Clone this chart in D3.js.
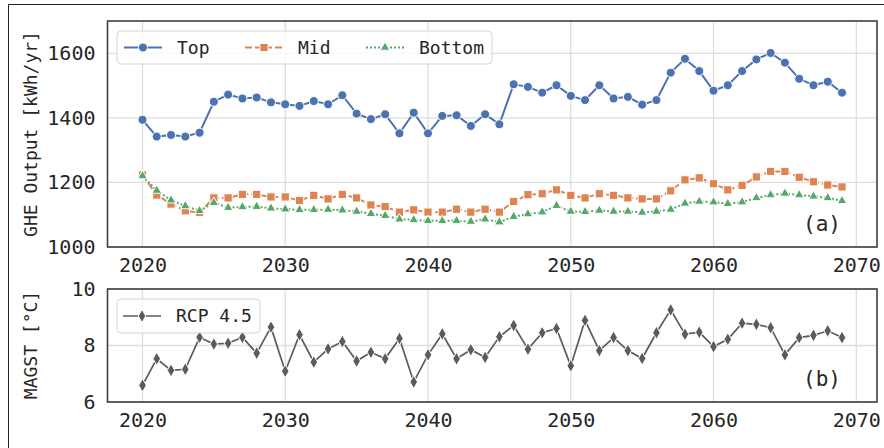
<!DOCTYPE html>
<html>
<head>
<meta charset="utf-8">
<script src="https://cdn.jsdelivr.net/npm/d3@7"></script>
<style>
  html, body { margin: 0; padding: 0; background: #fff; }
  svg { display: block; }
  text { font-family: "DejaVu Sans Mono", monospace; fill: #262626; }
</style>
</head>
<body>
<svg id="chart" width="884" height="448"></svg>
<script>
// Simulation years
const years = d3.range(2020, 2070);

// GHE annual output per sensor depth [kWh/yr]
const topOutput = [1394, 1342, 1347, 1342, 1354, 1450, 1472, 1460, 1463, 1448,
  1442, 1437, 1452, 1442, 1470, 1413, 1396, 1411, 1352, 1416,
  1352, 1406, 1408, 1375, 1411, 1380, 1504, 1496, 1478, 1501,
  1468, 1455, 1501, 1460, 1465, 1441, 1455, 1540, 1583, 1545,
  1484, 1501, 1545, 1581, 1601, 1571, 1521, 1501, 1512, 1478];
const midOutput = [1223, 1161, 1133, 1112, 1107, 1152, 1152, 1163, 1163, 1155,
  1155, 1144, 1160, 1149, 1163, 1152, 1130, 1125, 1108, 1115,
  1108, 1108, 1117, 1108, 1117, 1108, 1141, 1162, 1165, 1177,
  1160, 1152, 1165, 1160, 1152, 1149, 1149, 1174, 1208, 1214,
  1196, 1177, 1191, 1217, 1234, 1234, 1216, 1202, 1192, 1186];
const bottomOutput = [1220, 1175, 1145, 1127, 1112, 1137, 1122, 1124, 1125, 1120,
  1117, 1115, 1115, 1116, 1114, 1110, 1103, 1097, 1086, 1084,
  1081, 1081, 1081, 1079, 1086, 1077, 1094, 1102, 1108, 1128,
  1110, 1109, 1113, 1110, 1110, 1107, 1110, 1116, 1135, 1141,
  1139, 1134, 1139, 1152, 1161, 1166, 1161, 1157, 1152, 1143];

// Mean annual ground surface temperature, RCP 4.5 [°C]
const magst = [6.59, 7.53, 7.12, 7.16, 8.29, 8.05, 8.08, 8.29, 7.73, 8.65,
  7.09, 8.38, 7.41, 7.88, 8.14, 7.45, 7.76, 7.53, 8.25, 6.71,
  7.67, 8.41, 7.53, 7.85, 7.58, 8.31, 8.71, 7.87, 8.45, 8.60,
  7.28, 8.89, 7.82, 8.28, 7.82, 7.54, 8.45, 9.26, 8.40, 8.47,
  7.96, 8.22, 8.79, 8.75, 8.63, 7.67, 8.28, 8.36, 8.52, 8.28];

const xTicks = [2020, 2030, 2040, 2050, 2060, 2070];
const gheTicks = [1000, 1200, 1400, 1600];
const magstTicks = [6, 8, 10];

const svg = d3.select("#chart");

// figure border
svg.append("path").attr("d", "M8.5,448 V4.5 H884")
  .attr("fill", "none").attr("stroke", "#222").attr("stroke-width", 1);

const x = d3.scaleLinear().domain([2017.55, 2071.45]).range([107.5, 877]);
const yTop = d3.scaleLinear().domain([1000, 1700]).range([247, 21]);
const yBot = d3.scaleLinear().domain([6, 10]).range([402, 289]);

const gridColor = "#dedede";
const frameColor = "#3f3f3f";

function panel(y, yTicks, yLabel, yLabelY, tag) {
  const g = svg.append("g");
  const [y0, y1] = y.range();
  // grid
  g.append("g").selectAll("line").data(xTicks).join("line")
    .attr("x1", d => x(d)).attr("x2", d => x(d))
    .attr("y1", y1).attr("y2", y0)
    .attr("stroke", gridColor).attr("stroke-width", 1.3);
  g.append("g").selectAll("line").data(yTicks).join("line")
    .attr("x1", x.range()[0]).attr("x2", x.range()[1])
    .attr("y1", d => y(d)).attr("y2", d => y(d))
    .attr("stroke", gridColor).attr("stroke-width", 1.3);

  // axes (ticks hidden, labels only)
  const xa = g.append("g").attr("transform", `translate(0,${y0})`)
    .call(d3.axisBottom(x).tickValues(xTicks).tickFormat(d3.format("d")).tickSize(0).tickPadding(10));
  const ya = g.append("g").attr("transform", `translate(${x.range()[0]},0)`)
    .call(d3.axisLeft(y).tickValues(yTicks).tickFormat(d3.format("d")).tickSize(0).tickPadding(12));
  [xa, ya].forEach(a => {
    a.select(".domain").remove();
    a.selectAll("text").attr("font-family", "DejaVu Sans Mono").attr("font-size", 20).attr("fill", "#2e2e2e");
  });
  xa.selectAll("text").attr("dy", "0.75em").attr("y", 10);

  g.append("text")
    .attr("transform", `translate(37,${yLabelY}) rotate(-90)`)
    .attr("text-anchor", "middle").attr("font-size", 18).attr("fill", "#2e2e2e").text(yLabel);

  g.append("text").attr("x", 841).attr("y", y0 - 16)
    .attr("text-anchor", "end").attr("font-size", 21)
    .attr("font-family", "DejaVu Sans").attr("fill", "#111").text(tag);
  return g;
}

const gTop = panel(yTop, gheTicks, "GHE Output [kWh/yr]", 134, "(a)");
const gBot = panel(yBot, magstTicks, "MAGST [°C]", 345, "(b)");

// marker shapes
const sym = {
  circle: d3.symbol().type(d3.symbolCircle).size(64),
  square: d3.symbol().type(d3.symbolSquare).size(68),
  triangle: d3.symbol().type(d3.symbolTriangle).size(40),
  diamond: d3.symbol().type(d3.symbolDiamond).size(50)
};

const series = [
  { name: "Top", values: topOutput, color: "#4c72b0", dash: null, width: 2, marker: sym.circle },
  { name: "Mid", values: midOutput, color: "#dd8452", dash: "7,3", width: 2, marker: sym.square },
  { name: "Bottom", values: bottomOutput, color: "#55a868", dash: "2,2", width: 2, marker: sym.triangle }
];

function drawSeries(g, y, s) {
  const line = d3.line().x((d, i) => x(years[i])).y(d => y(d));
  g.append("path").datum(s.values)
    .attr("d", line).attr("fill", "none")
    .attr("stroke", s.color).attr("stroke-width", s.width)
    .attr("stroke-dasharray", s.dash);
  g.append("g").selectAll("path").data(s.values).join("path")
    .attr("d", s.marker)
    .attr("transform", (d, i) => `translate(${x(years[i])},${y(d)})`)
    .attr("fill", s.color).attr("stroke", "#fff").attr("stroke-width", 1);
}

series.forEach(s => drawSeries(gTop, yTop, s));
const rcp = { name: "RCP 4.5", values: magst, color: "#5b5b5b", dash: null, width: 1.7, marker: sym.diamond };
drawSeries(gBot, yBot, rcp);

// frames
[yTop, yBot].forEach(y => {
  svg.append("rect")
    .attr("x", x.range()[0]).attr("y", y.range()[1])
    .attr("width", x.range()[1] - x.range()[0]).attr("height", y.range()[0] - y.range()[1])
    .attr("fill", "none").attr("stroke", frameColor).attr("stroke-width", 1.6);
});

// legends
function legend(box, items) {
  const g = svg.append("g");
  g.append("rect").attr("x", box.x).attr("y", box.y)
    .attr("width", box.w).attr("height", box.h).attr("rx", 4)
    .attr("fill", "rgba(255,255,255,0.8)").attr("stroke", "#d6d6d6").attr("stroke-width", 1);
  const cy = box.y + box.h / 2;
  items.forEach(it => {
    g.append("line").attr("x1", it.x).attr("x2", it.x + 38)
      .attr("y1", cy).attr("y2", cy)
      .attr("stroke", it.s.color).attr("stroke-width", it.s.width)
      .attr("stroke-dasharray", it.s.dash);
    g.append("path").attr("d", it.s.marker)
      .attr("transform", `translate(${it.x + 19},${cy})`)
      .attr("fill", it.s.color).attr("stroke", "#fff").attr("stroke-width", 1);
    g.append("text").attr("x", it.x + 53).attr("y", cy).attr("dy", "0.36em")
      .attr("font-size", 18).attr("fill", "#2e2e2e").text(it.s.name);
  });
}

legend({ x: 117, y: 31, w: 375, h: 33 }, [
  { x: 124, s: series[0] },
  { x: 245, s: series[1] },
  { x: 366, s: series[2] }
]);
legend({ x: 117, y: 299, w: 143, h: 34 }, [
  { x: 123, s: rcp }
]);
</script>
</body>
</html>
